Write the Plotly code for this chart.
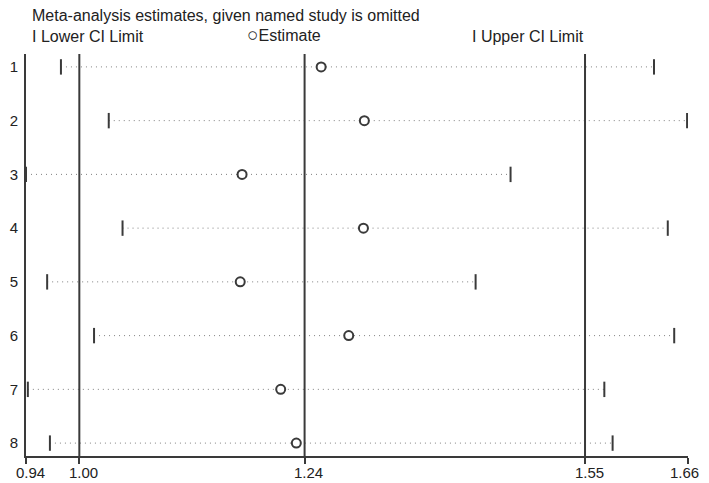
import plotly.graph_objects as go

studies = ["1", "2", "3", "4", "5", "6", "7", "8"]
lower = [0.978, 1.030, 0.940, 1.045, 0.963, 1.014, 0.942, 0.966]
estimate = [1.261, 1.308, 1.175, 1.307, 1.173, 1.291, 1.217, 1.234]
upper = [1.623, 1.659, 1.467, 1.638, 1.429, 1.645, 1.569, 1.578]

overall_lower = 0.998
overall_est = 1.243
overall_upper = 1.548
tick_vals = [0.940, overall_lower, overall_est, overall_upper, 1.66]
tick_text = ["0.94", "1.00", "1.24", "1.55", "1.66"]

ypos = list(range(1, len(studies) + 1))
dark = "#3a3a3a"

fig = go.Figure()

# reference lines
for v in [overall_lower, overall_est, overall_upper]:
    fig.add_shape(type="line", xref="x", yref="paper", x0=v, x1=v, y0=0, y1=1,
                  line=dict(color=dark, width=2))

# dotted CI lines
for yi, lo, hi in zip(ypos, lower, upper):
    fig.add_trace(go.Scatter(x=[lo, hi], y=[yi, yi], mode="lines",
                             line=dict(color="#808080", width=1, dash="1px,4px"),
                             hoverinfo="skip", showlegend=False))

# caps
fig.add_trace(go.Scatter(x=lower + upper, y=ypos + ypos, mode="markers",
                         marker=dict(symbol="line-ns", size=11,
                                     line=dict(color=dark, width=2)),
                         showlegend=False))
# estimates
fig.add_trace(go.Scatter(x=estimate, y=ypos, mode="markers",
                         marker=dict(symbol="circle", size=9, color="white",
                                     line=dict(color=dark, width=2)),
                         showlegend=False))

font = "Liberation Sans, Arial, sans-serif"
plot_h = 402
plot_w = 662
fig.add_annotation(text="Meta-analysis estimates, given named study is omitted",
                   xref="paper", yref="paper", x=(30 - 26) / plot_w, y=1 + (54 - 15) / plot_h,
                   xanchor="left", yanchor="middle", showarrow=False,
                   font=dict(family=font, size=16, color="#222222"))
for txt, px, ys in [("I Lower CI Limit", 30, 0),
                    ("<span style='font-size:19px'>\u25CB</span>Estimate", 245, 2),
                    ("I Upper CI Limit", 470, 0)]:
    fig.add_annotation(text=txt, xref="paper", yref="paper",
                       x=(px - 26) / plot_w, y=1 + (54 - 37) / plot_h, yshift=ys,
                       xanchor="left", yanchor="middle", showarrow=False,
                       font=dict(family=font, size=16, color="#222222"))

# x tick labels (the last one kept inside the page edge)
for i, (v, t) in enumerate(zip(tick_vals, tick_text)):
    last = i == len(tick_vals) - 1
    fig.add_annotation(text=t, xref="x", yref="paper", x=v, y=0,
                       xanchor="right" if last else "center", yanchor="middle",
                       xshift=13 if last else 4, yshift=-16, showarrow=False,
                       font=dict(family=font, size=15, color="#222222"))

# page body has an 8px default margin, so the figure is drawn offset by 8px
fig.update_layout(
    width=693, height=475,
    margin=dict(l=18, r=13, t=46, b=27),
    paper_bgcolor="white", plot_bgcolor="white",
    font=dict(family=font, size=15, color="#222222"),
    showlegend=False,
)
fig.update_xaxes(range=[0.94, 1.66], tickvals=tick_vals, ticktext=tick_text,
                 showticklabels=False,
                 showgrid=False, zeroline=False, showline=True, linecolor=dark,
                 linewidth=2, ticks="outside", ticklen=6, tickwidth=2, tickcolor=dark,
                 automargin=False)
fig.update_yaxes(range=[8.24, 0.76], tickvals=ypos, ticktext=studies,
                 showgrid=False, zeroline=False, showline=True, linecolor=dark,
                 linewidth=2, ticks="", tickfont=dict(size=15), ticklabelstandoff=3,
                 automargin=False)

fig.write_html("out.html")
